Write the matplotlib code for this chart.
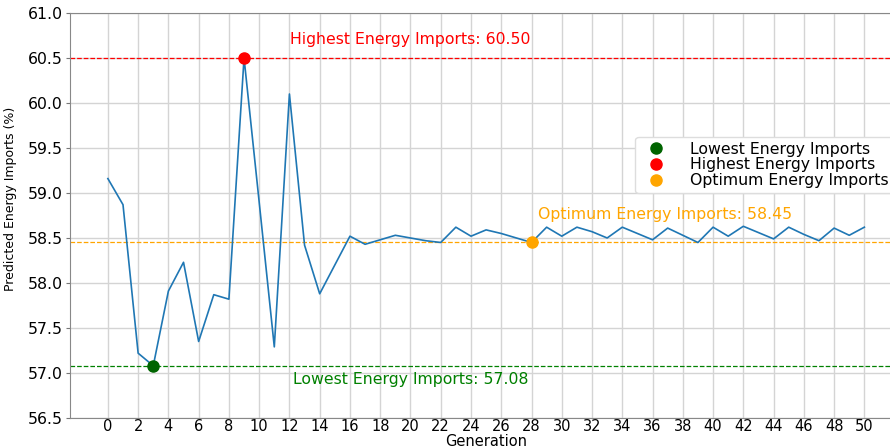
import matplotlib
matplotlib.use("Agg")
import matplotlib.pyplot as plt
import numpy as np

# predicted energy imports (%) per generation
generations = list(range(51))
imports = [59.16, 58.87, 57.22, 57.08, 57.91, 58.23, 57.35, 57.87, 57.82, 60.50,
           58.90, 57.29, 60.10, 58.42, 57.88, 58.20, 58.52, 58.43, 58.48, 58.53,
           58.50, 58.47, 58.45, 58.62, 58.52, 58.59, 58.55, 58.50, 58.45, 58.62,
           58.52, 58.62, 58.57, 58.50, 58.62, 58.55, 58.48, 58.61, 58.53, 58.45,
           58.62, 58.52, 58.63, 58.56, 58.49, 58.62, 58.54, 58.47, 58.61, 58.53,
           58.62]

lowest_gen = 3
highest_gen = 9
optimum_gen = 28
lowest_val = imports[lowest_gen]
highest_val = imports[highest_gen]
optimum_val = imports[optimum_gen]

fs = 11.3

fig = plt.figure(figsize=(8.9, 4.48), dpi=100)
ax = fig.add_axes([0.0787, 0.067, 0.935, 0.904])

ax.plot(generations, imports, color="#1f77b4", linewidth=1.2, zorder=3)

ax.axhline(highest_val, color="red", linestyle="--", linewidth=0.9, zorder=2)
ax.axhline(lowest_val, color="green", linestyle="--", linewidth=0.9, zorder=2)
ax.axhline(optimum_val, color="orange", linestyle="--", linewidth=0.9, zorder=2)

ax.plot(lowest_gen, lowest_val, "o", color="darkgreen", markersize=8,
        label="Lowest Energy Imports", zorder=4)
ax.plot(highest_gen, highest_val, "o", color="red", markersize=8,
        label="Highest Energy Imports", zorder=4)
ax.plot(optimum_gen, optimum_val, "o", color="orange", markersize=8,
        label="Optimum Energy Imports", zorder=4)

ax.text(20, highest_val + 0.2, f"Highest Energy Imports: {highest_val:.2f}",
        color="red", ha="center", va="center", fontsize=fs)
ax.text(20, lowest_val - 0.15, f"Lowest Energy Imports: {lowest_val:.2f}",
        color="green", ha="center", va="center", fontsize=fs)
ax.text(28.4, optimum_val + 0.31, f"Optimum Energy Imports: {optimum_val:.2f}",
        color="orange", ha="left", va="center", fontsize=fs)

ax.set_xlim(-2.5, 52.5)
ax.set_ylim(56.5, 61.0)
ax.set_xticks(np.arange(0, 51, 2))
ax.set_yticks(np.arange(56.5, 61.01, 0.5))
ax.yaxis.set_major_formatter(matplotlib.ticker.FormatStrFormatter("%.1f"))
ax.tick_params(axis="y", labelsize=fs, color="#777777", length=3, pad=2)
ax.tick_params(axis="x", labelsize=10.5, length=0, pad=1)

ax.grid(True, color="#d4d4d4", linewidth=1.0)
ax.set_axisbelow(True)
for s in ax.spines.values():
    s.set_color("#888888")

ax.set_xlabel("Generation", fontsize=10.5, labelpad=0)
ax.set_ylabel("Predicted Energy Imports (%)", fontsize=9)
ax.yaxis.set_label_coords(-0.064, 0.54)

ax.legend(loc="center left", bbox_to_anchor=(0.67, 0.625), fontsize=fs,
          frameon=True, framealpha=1.0, edgecolor="#dddddd",
          handletextpad=1.2, borderpad=0.3, labelspacing=0.05)

fig.savefig("out.png", dpi=100)
